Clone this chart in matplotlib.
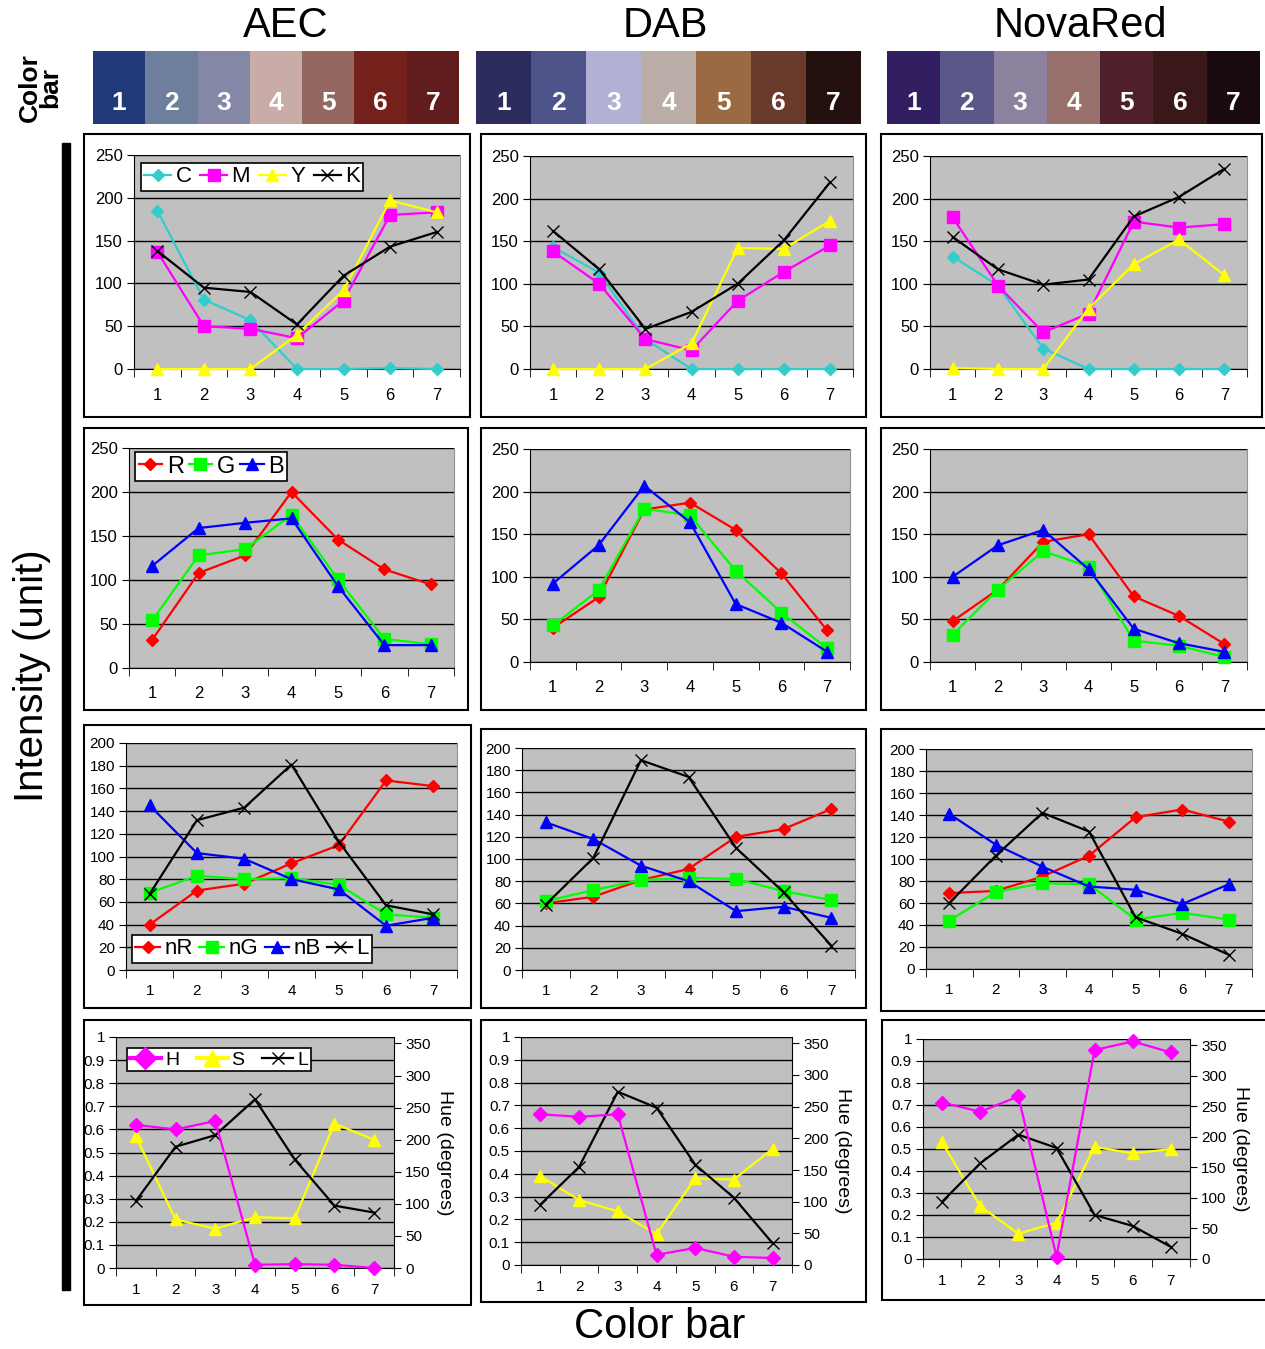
import matplotlib
matplotlib.use("Agg")
import matplotlib.pyplot as plt
from matplotlib.patches import Rectangle
from matplotlib.lines import Line2D
import numpy as np

plt.rcParams['font.family'] = ['Liberation Sans', 'DejaVu Sans']

W, H = 1265, 1349

x = [1, 2, 3, 4, 5, 6, 7]
bar_labels = ['1', '2', '3', '4', '5', '6', '7']
stains = ['AEC', 'DAB', 'NovaRed']

aec_colors = ['#213a7a', '#6d7f9c', '#8487a6', '#c9aba8', '#946760', '#74211c', '#611c1e']
dab_colors = ['#2c2c5e', '#4e5389', '#b0b1d3', '#baaca6', '#9a6b42', '#6a3b2d', '#251010']
nova_colors = ['#311f62', '#5a5888', '#8c829e', '#97706c', '#4f1f2b', '#3a1719', '#180a0f']

# CMYK
aec_c = [185, 81, 57, 0, 0, 1, 0]
aec_m = [137, 50, 47, 36, 80, 180, 183]
aec_y = [0, 0, 0, 40, 92, 197, 183]
aec_k = [138, 95, 90, 52, 109, 143, 160]
dab_c = [143, 113, 35, 0, 0, 0, 0]
dab_m = [138, 100, 35, 22, 80, 114, 145]
dab_y = [0, 0, 0, 30, 142, 141, 174]
dab_k = [162, 117, 47, 67, 100, 151, 219]
nova_c = [132, 98, 24, 0, 0, 0, 0]
nova_m = [178, 98, 43, 65, 173, 166, 170]
nova_y = [1, 0, 0, 71, 123, 152, 110]
nova_k = [155, 117, 99, 105, 179, 202, 235]

# RGB
aec_r = [32, 108, 128, 200, 146, 112, 95]
aec_g = [54, 128, 135, 174, 101, 33, 27]
aec_b = [116, 159, 165, 170, 93, 26, 26]
dab_r = [40, 76, 179, 187, 155, 104, 37]
dab_g = [43, 84, 180, 172, 107, 58, 16]
dab_b = [92, 137, 207, 164, 68, 46, 12]
nova_r = [48, 85, 141, 150, 77, 54, 21]
nova_g = [32, 85, 130, 112, 25, 19, 6]
nova_b = [100, 137, 155, 109, 39, 22, 12]

# normalised RGB + lightness
aec_nr = [40, 70, 76, 94, 110, 167, 162]
aec_ng = [68, 83, 80, 81, 75, 49, 46]
aec_nb = [145, 103, 98, 80, 71, 39, 46]
aec_l = [67, 132, 143, 181, 113, 57, 49]
dab_nr = [60, 66, 81, 91, 120, 127, 145]
dab_ng = [62, 72, 81, 83, 82, 71, 63]
dab_nb = [133, 118, 94, 80, 53, 57, 47]
dab_l = [59, 101, 189, 174, 110, 70, 22]
nova_nr = [69, 71, 84, 103, 138, 145, 134]
nova_ng = [44, 70, 78, 77, 45, 51, 45]
nova_nb = [141, 113, 93, 75, 72, 59, 77]
nova_l = [60, 103, 142, 125, 47, 32, 13]

# HSL (hue in degrees, S and L in 0..1)
aec_hue = [223, 216, 229, 5, 6, 5, 0]
aec_sat = [0.57, 0.21, 0.17, 0.22, 0.215, 0.625, 0.555]
aec_lum = [0.29, 0.525, 0.575, 0.73, 0.47, 0.27, 0.24]
dab_hue = [238, 234, 238, 16, 27, 13, 11]
dab_sat = [0.39, 0.285, 0.235, 0.135, 0.38, 0.375, 0.51]
dab_lum = [0.265, 0.43, 0.76, 0.69, 0.44, 0.295, 0.095]
nova_hue = [256, 241, 266, 4, 342, 356, 338]
nova_sat = [0.53, 0.24, 0.115, 0.165, 0.51, 0.48, 0.5]
nova_lum = [0.26, 0.435, 0.565, 0.505, 0.2, 0.15, 0.055]

bar_colors = [aec_colors, dab_colors, nova_colors]
cmyk = [[aec_c, aec_m, aec_y, aec_k], [dab_c, dab_m, dab_y, dab_k], [nova_c, nova_m, nova_y, nova_k]]
rgb = [[aec_r, aec_g, aec_b], [dab_r, dab_g, dab_b], [nova_r, nova_g, nova_b]]
nrgbl = [[aec_nr, aec_ng, aec_nb, aec_l], [dab_nr, dab_ng, dab_nb, dab_l], [nova_nr, nova_ng, nova_nb, nova_l]]
hsl = [[aec_hue, aec_sat, aec_lum], [dab_hue, dab_sat, dab_lum], [nova_hue, nova_sat, nova_lum]]

CYAN, MAG, YEL, BLK = '#33cccc', '#ff00ff', '#ffff00', 'black'
RED, GRN, BLU = '#ff0000', '#00ff00', '#0000ff'


def box(x0, y0, x1, y1):
    return [x0 / W, 1 - y1 / H, (x1 - x0) / W, (y1 - y0) / H]


fig = plt.figure(figsize=(W / 100, H / 100), dpi=100)

# layout in pixels
bar_boxes = [(93, 51, 459, 124), (476, 51, 861, 124), (887, 51, 1260, 124)]
title_x = [286, 665, 1080]
frames = [
    [(84, 134, 470, 417), (481, 134, 866, 417), (881, 134, 1262, 417)],
    [(84, 428, 468, 710), (481, 428, 866, 710), (881, 428, 1272, 710)],
    [(84, 725, 471, 1008), (481, 729, 866, 1008), (881, 729, 1272, 1011)],
    [(84, 1020, 471, 1305), (481, 1020, 866, 1302), (882, 1020, 1272, 1300)],
]
axboxes = [
    [(134, 155, 460, 369), (530, 156, 853, 369), (930, 156, 1247, 369)],
    [(129, 448, 454, 668), (530, 449, 850, 662), (930, 449, 1247, 662)],
    [(126, 743, 457, 970), (522, 748, 855, 970), (926, 749, 1252, 969)],
    [(116, 1037, 394, 1268), (521, 1037, 792, 1265), (923, 1039, 1190, 1259)],
]

# titles + colour bars
for j in range(3):
    fig.text(title_x[j] / W, 1 - 26 / H, stains[j], fontsize=30, ha='center', va='center')
    bax = fig.add_axes(box(*bar_boxes[j]))
    bax.bar(x, [1] * 7, width=1.0, color=bar_colors[j], edgecolor='none')
    bax.set_xlim(0.5, 7.5)
    bax.set_ylim(0, 1)
    bax.axis('off')
    for i, lab in enumerate(bar_labels):
        bax.text(x[i], 0.29, lab, color='white', fontsize=19, fontweight='bold',
                 ha='center', va='center')

fig.text(40 / W, 1 - 88 / H, 'Color\nbar', rotation=90, fontsize=19, fontweight='bold',
         ha='center', va='center', linespacing=0.85)
fig.text(32 / W, 1 - 676 / H, 'Intensity (unit)', rotation=90, fontsize=29, ha='center', va='center')
fig.text(660 / W, 1 - 1327 / H, 'Color bar', fontsize=30, ha='center', va='center')
fig.add_artist(Rectangle((62 / W, 1 - 1290 / H), 8 / W, (1290 - 143) / H,
                         transform=fig.transFigure, color='black', zorder=-1))

# panel frames
for r in range(4):
    for j in range(3):
        x0, y0, x1, y1 = frames[r][j]
        fig.add_artist(Rectangle((x0 / W, 1 - y1 / H), (x1 - x0) / W, (y1 - y0) / H,
                                 transform=fig.transFigure, facecolor='white',
                                 edgecolor='black', lw=1.5, zorder=-2))


def style_axis(ax, ymax, ystep, fs, xpad):
    ax.set_facecolor('#c0c0c0')
    ax.set_xlim(0.5, 7.5)
    ax.set_ylim(0, ymax)
    ticks = np.arange(0, ymax + ystep / 2, ystep)
    ax.set_yticks(ticks)
    ax.grid(axis='y', color='black', lw=1)
    ax.set_axisbelow(True)
    ax.set_xticks(x)
    ax.set_xticklabels(bar_labels)
    ax.set_xticks(np.arange(0.5, 8, 1), minor=True)
    ax.tick_params(axis='x', which='major', length=0, pad=xpad, labelsize=fs)
    ax.tick_params(axis='x', which='minor', length=6, direction='out')
    ax.tick_params(axis='y', length=5, direction='out', labelsize=fs, pad=3)
    ax.spines['top'].set_visible(False)
    ax.spines['right'].set_color('#909090')
    for s in ['left', 'bottom']:
        ax.spines[s].set_color('black')


def legend(ax, handles, labels, x0, y0, fs, hl=1.2, cs=0.4):
    # x0, y0 : top-left corner in figure pixels
    leg = ax.legend(handles, labels, loc='upper left', ncol=len(handles),
                    bbox_to_anchor=(x0 / W, 1 - y0 / H), bbox_transform=fig.transFigure,
                    fontsize=fs, frameon=True, fancybox=False, edgecolor='black',
                    framealpha=1, handlelength=hl, handletextpad=0.2,
                    columnspacing=cs, borderpad=0.15, borderaxespad=0)
    leg.get_frame().set_linewidth(1.2)
    leg.set_zorder(10)
    return leg


lw = 1.6
kw = dict(lw=lw, clip_on=False, zorder=3)
for j in range(3):
    # row 1 : CMYK
    ax = fig.add_axes(box(*axboxes[0][j]))
    style_axis(ax, 250, 50, 12, 14)
    c, m, yy, k = cmyk[j]
    h1, = ax.plot(x, c, color=CYAN, marker='D', ms=6, **kw)
    h2, = ax.plot(x, m, color=MAG, marker='s', ms=8, **kw)
    h3, = ax.plot(x, yy, color=YEL, marker='^', ms=9, **kw)
    h4, = ax.plot(x, k, color=BLK, marker='x', ms=9, mew=1, **kw)
    if j == 0:
        legend(ax, [h1, h2, h3, h4], ['C', 'M', 'Y', 'K'], 141, 163, 16)

    # row 2 : RGB
    ax = fig.add_axes(box(*axboxes[1][j]))
    style_axis(ax, 250, 50, 12, 13)
    r_, g_, b_ = rgb[j]
    h1, = ax.plot(x, r_, color=RED, marker='D', ms=6, **kw)
    h2, = ax.plot(x, g_, color=GRN, marker='s', ms=8, **kw)
    h3, = ax.plot(x, b_, color=BLU, marker='^', ms=9, **kw)
    if j == 0:
        legend(ax, [h1, h2, h3], ['R', 'G', 'B'], 135, 452, 17, hl=1.0, cs=0.2)

    # row 3 : normalised RGB + L
    ax = fig.add_axes(box(*axboxes[2][j]))
    style_axis(ax, 200, 20, 11, 10)
    nr, ng, nb, ll = nrgbl[j]
    h1, = ax.plot(x, nr, color=RED, marker='D', ms=6, **kw)
    h2, = ax.plot(x, ng, color=GRN, marker='s', ms=8, **kw)
    h3, = ax.plot(x, nb, color=BLU, marker='^', ms=9, **kw)
    h4, = ax.plot(x, ll, color=BLK, marker='x', ms=9, mew=1, **kw)
    if j == 0:
        legend(ax, [h1, h2, h3, h4], ['nR', 'nG', 'nB', 'L'], 132, 935, 16, hl=1.1, cs=0.3)

    # row 4 : HSL
    ax = fig.add_axes(box(*axboxes[3][j]))
    style_axis(ax, 1, 0.1, 11, 11)
    ax.set_yticklabels(['0'] + ['%.1f' % v for v in np.arange(0.1, 0.95, 0.1)] + ['1'])
    ax.spines['right'].set_visible(False)
    hu, sa, lu = hsl[j]
    h2, = ax.plot(x, sa, color=YEL, marker='^', ms=9, **kw)
    h3, = ax.plot(x, lu, color=BLK, marker='x', ms=9, mew=1, **kw)
    ax2 = ax.twinx()
    ax2.set_ylim(0, 360)
    ax2.set_yticks(np.arange(0, 351, 50))
    ax2.tick_params(axis='y', length=5, direction='out', labelsize=11, pad=3)
    ax2.spines['top'].set_visible(False)
    ax2.spines['left'].set_visible(False)
    ax2.spines['bottom'].set_visible(False)
    ax2.spines['right'].set_color('black')
    h1, = ax2.plot(x, hu, color=MAG, marker='D', ms=7, **kw)
    ax2.set_ylabel('Hue (degrees)', rotation=270, fontsize=14, labelpad=16)
    if j == 0:
        hh = Line2D([], [], color=MAG, marker='D', ms=11, lw=3)
        hs = Line2D([], [], color=YEL, marker='^', ms=12, lw=3)
        hl = Line2D([], [], color=BLK, marker='x', ms=9, lw=1.6)
        legend(ax2, [hh, hs, hl], ['H', 'S', 'L'], 127, 1048, 14, hl=1.6, cs=0.9)

fig.savefig('out.png', dpi=100)
